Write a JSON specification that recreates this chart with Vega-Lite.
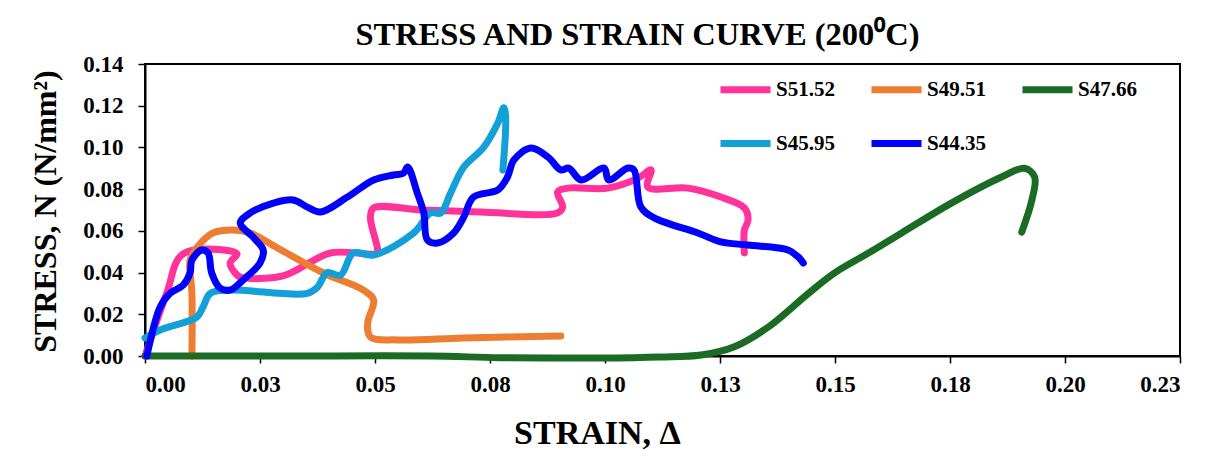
{
  "$schema": "https://vega.github.io/schema/vega-lite/v6.json",
  "autosize": "none",
  "width": 1035,
  "height": 292,
  "padding": {"left": 145, "top": 64, "right": 41, "bottom": 99},
  "background": "white",
  "title": {
    "text": "STRESS AND STRAIN CURVE (200⁰C)",
    "font": "Liberation Serif",
    "fontSize": 32.5,
    "fontWeight": "bold",
    "color": "black",
    "anchor": "middle",
    "dx": -25,
    "offset": 2
  },
  "config": {
    "view": {"stroke": "black", "strokeWidth": 2},
    "axis": {
      "labelFont": "Liberation Serif",
      "labelFontWeight": "bold",
      "labelFontSize": 23,
      "labelColor": "black",
      "titleFont": "Liberation Serif",
      "titleFontWeight": "bold",
      "titleColor": "black",
      "domainColor": "black",
      "domainWidth": 2,
      "tickColor": "black",
      "tickWidth": 1.5,
      "tickSize": 7,
      "grid": false
    }
  },
  "data": {
    "values": [
      {"s": "S51.52", "i": 0, "x": 0.0, "y": 0.0},
      {"s": "S51.52", "i": 1, "x": 0.0047, "y": 0.030},
      {"s": "S51.52", "i": 2, "x": 0.0083, "y": 0.049},
      {"s": "S51.52", "i": 3, "x": 0.020, "y": 0.049},
      {"s": "S51.52", "i": 4, "x": 0.0185, "y": 0.0446},
      {"s": "S51.52", "i": 5, "x": 0.0196, "y": 0.0398},
      {"s": "S51.52", "i": 6, "x": 0.0207, "y": 0.0379},
      {"s": "S51.52", "i": 7, "x": 0.030, "y": 0.0384},
      {"s": "S51.52", "i": 8, "x": 0.0403, "y": 0.0494},
      {"s": "S51.52", "i": 9, "x": 0.0505, "y": 0.0494},
      {"s": "S51.52", "i": 10, "x": 0.0505, "y": 0.052},
      {"s": "S51.52", "i": 11, "x": 0.049, "y": 0.0666},
      {"s": "S51.52", "i": 12, "x": 0.0497, "y": 0.071},
      {"s": "S51.52", "i": 13, "x": 0.060, "y": 0.070},
      {"s": "S51.52", "i": 14, "x": 0.073, "y": 0.069},
      {"s": "S51.52", "i": 15, "x": 0.0897, "y": 0.0686},
      {"s": "S51.52", "i": 16, "x": 0.0908, "y": 0.0714},
      {"s": "S51.52", "i": 17, "x": 0.0897, "y": 0.0786},
      {"s": "S51.52", "i": 18, "x": 0.0919, "y": 0.0805},
      {"s": "S51.52", "i": 19, "x": 0.1006, "y": 0.0805},
      {"s": "S51.52", "i": 20, "x": 0.1072, "y": 0.0853},
      {"s": "S51.52", "i": 21, "x": 0.110, "y": 0.0892},
      {"s": "S51.52", "i": 22, "x": 0.1093, "y": 0.081},
      {"s": "S51.52", "i": 23, "x": 0.118, "y": 0.0805},
      {"s": "S51.52", "i": 24, "x": 0.1252, "y": 0.0762},
      {"s": "S51.52", "i": 25, "x": 0.1303, "y": 0.071},
      {"s": "S51.52", "i": 26, "x": 0.1311, "y": 0.0652},
      {"s": "S51.52", "i": 27, "x": 0.1303, "y": 0.0604},
      {"s": "S51.52", "i": 28, "x": 0.1303, "y": 0.0494},

      {"s": "S49.51", "i": 0, "x": 0.0102, "y": 0.0},
      {"s": "S49.51", "i": 1, "x": 0.0102, "y": 0.030},
      {"s": "S49.51", "i": 2, "x": 0.0098, "y": 0.046},
      {"s": "S49.51", "i": 3, "x": 0.0113, "y": 0.052},
      {"s": "S49.51", "i": 4, "x": 0.0148, "y": 0.059},
      {"s": "S49.51", "i": 5, "x": 0.0192, "y": 0.0604},
      {"s": "S49.51", "i": 6, "x": 0.0229, "y": 0.059},
      {"s": "S49.51", "i": 7, "x": 0.0288, "y": 0.0518},
      {"s": "S49.51", "i": 8, "x": 0.0388, "y": 0.0398},
      {"s": "S49.51", "i": 9, "x": 0.0475, "y": 0.0316},
      {"s": "S49.51", "i": 10, "x": 0.0497, "y": 0.0268},
      {"s": "S49.51", "i": 11, "x": 0.0484, "y": 0.0158},
      {"s": "S49.51", "i": 12, "x": 0.049, "y": 0.0091},
      {"s": "S49.51", "i": 13, "x": 0.0549, "y": 0.0077},
      {"s": "S49.51", "i": 14, "x": 0.0693, "y": 0.0086},
      {"s": "S49.51", "i": 15, "x": 0.0904, "y": 0.0096},

      {"s": "S47.66", "i": 0, "x": 0.0, "y": 0.0},
      {"s": "S47.66", "i": 1, "x": 0.030, "y": 0.0},
      {"s": "S47.66", "i": 2, "x": 0.062, "y": 0.0},
      {"s": "S47.66", "i": 3, "x": 0.0773, "y": -0.0008},
      {"s": "S47.66", "i": 4, "x": 0.099, "y": -0.001},
      {"s": "S47.66", "i": 5, "x": 0.112, "y": -0.0005},
      {"s": "S47.66", "i": 6, "x": 0.1209, "y": 0.0005},
      {"s": "S47.66", "i": 7, "x": 0.128, "y": 0.0043},
      {"s": "S47.66", "i": 8, "x": 0.1355, "y": 0.0139},
      {"s": "S47.66", "i": 9, "x": 0.1442, "y": 0.030},
      {"s": "S47.66", "i": 10, "x": 0.150, "y": 0.040},
      {"s": "S47.66", "i": 11, "x": 0.157, "y": 0.049},
      {"s": "S47.66", "i": 12, "x": 0.1645, "y": 0.059},
      {"s": "S47.66", "i": 13, "x": 0.1753, "y": 0.0733},
      {"s": "S47.66", "i": 14, "x": 0.1862, "y": 0.0858},
      {"s": "S47.66", "i": 15, "x": 0.1912, "y": 0.090},
      {"s": "S47.66", "i": 16, "x": 0.1934, "y": 0.0858},
      {"s": "S47.66", "i": 17, "x": 0.1928, "y": 0.0748},
      {"s": "S47.66", "i": 18, "x": 0.1906, "y": 0.0594},

      {"s": "S45.95", "i": 0, "x": 0.0, "y": 0.0086},
      {"s": "S45.95", "i": 1, "x": 0.0033, "y": 0.0125},
      {"s": "S45.95", "i": 2, "x": 0.0113, "y": 0.0187},
      {"s": "S45.95", "i": 3, "x": 0.0126, "y": 0.0235},
      {"s": "S45.95", "i": 4, "x": 0.0142, "y": 0.030},
      {"s": "S45.95", "i": 5, "x": 0.0185, "y": 0.0316},
      {"s": "S45.95", "i": 6, "x": 0.0353, "y": 0.030},
      {"s": "S45.95", "i": 7, "x": 0.0375, "y": 0.033},
      {"s": "S45.95", "i": 8, "x": 0.0396, "y": 0.040},
      {"s": "S45.95", "i": 9, "x": 0.0425, "y": 0.0388},
      {"s": "S45.95", "i": 10, "x": 0.0453, "y": 0.0494},
      {"s": "S45.95", "i": 11, "x": 0.0497, "y": 0.0484},
      {"s": "S45.95", "i": 12, "x": 0.0584, "y": 0.059},
      {"s": "S45.95", "i": 13, "x": 0.0621, "y": 0.0686},
      {"s": "S45.95", "i": 14, "x": 0.0643, "y": 0.0686},
      {"s": "S45.95", "i": 15, "x": 0.0664, "y": 0.078},
      {"s": "S45.95", "i": 16, "x": 0.0693, "y": 0.0906},
      {"s": "S45.95", "i": 17, "x": 0.0736, "y": 0.100},
      {"s": "S45.95", "i": 18, "x": 0.0767, "y": 0.1117},
      {"s": "S45.95", "i": 19, "x": 0.078, "y": 0.119},
      {"s": "S45.95", "i": 20, "x": 0.0784, "y": 0.1146},
      {"s": "S45.95", "i": 21, "x": 0.0778, "y": 0.0892},

      {"s": "S44.35", "i": 0, "x": 0.0004, "y": 0.0},
      {"s": "S44.35", "i": 1, "x": 0.0033, "y": 0.0235},
      {"s": "S44.35", "i": 2, "x": 0.0054, "y": 0.030},
      {"s": "S44.35", "i": 3, "x": 0.0083, "y": 0.034},
      {"s": "S44.35", "i": 4, "x": 0.0098, "y": 0.0398},
      {"s": "S44.35", "i": 5, "x": 0.0102, "y": 0.046},
      {"s": "S44.35", "i": 6, "x": 0.0123, "y": 0.0508},
      {"s": "S44.35", "i": 7, "x": 0.0137, "y": 0.0494},
      {"s": "S44.35", "i": 8, "x": 0.0145, "y": 0.0398},
      {"s": "S44.35", "i": 9, "x": 0.0163, "y": 0.0326},
      {"s": "S44.35", "i": 10, "x": 0.0185, "y": 0.0316},
      {"s": "S44.35", "i": 11, "x": 0.0213, "y": 0.0364},
      {"s": "S44.35", "i": 12, "x": 0.025, "y": 0.0446},
      {"s": "S44.35", "i": 13, "x": 0.0257, "y": 0.0508},
      {"s": "S44.35", "i": 14, "x": 0.0235, "y": 0.057},
      {"s": "S44.35", "i": 15, "x": 0.0207, "y": 0.0638},
      {"s": "S44.35", "i": 16, "x": 0.0229, "y": 0.0686},
      {"s": "S44.35", "i": 17, "x": 0.0279, "y": 0.0733},
      {"s": "S44.35", "i": 18, "x": 0.0322, "y": 0.0748},
      {"s": "S44.35", "i": 19, "x": 0.0353, "y": 0.0714},
      {"s": "S44.35", "i": 20, "x": 0.0381, "y": 0.069},
      {"s": "S44.35", "i": 21, "x": 0.044, "y": 0.0762},
      {"s": "S44.35", "i": 22, "x": 0.0497, "y": 0.0844},
      {"s": "S44.35", "i": 23, "x": 0.054, "y": 0.0868},
      {"s": "S44.35", "i": 24, "x": 0.0562, "y": 0.0877},
      {"s": "S44.35", "i": 25, "x": 0.0571, "y": 0.0906},
      {"s": "S44.35", "i": 26, "x": 0.0592, "y": 0.0781},
      {"s": "S44.35", "i": 27, "x": 0.0606, "y": 0.0686},
      {"s": "S44.35", "i": 28, "x": 0.0614, "y": 0.0556},
      {"s": "S44.35", "i": 29, "x": 0.0636, "y": 0.0542},
      {"s": "S44.35", "i": 30, "x": 0.0671, "y": 0.059},
      {"s": "S44.35", "i": 31, "x": 0.0693, "y": 0.0666},
      {"s": "S44.35", "i": 32, "x": 0.0714, "y": 0.0762},
      {"s": "S44.35", "i": 33, "x": 0.0767, "y": 0.0796},
      {"s": "S44.35", "i": 34, "x": 0.0788, "y": 0.0858},
      {"s": "S44.35", "i": 35, "x": 0.0802, "y": 0.094},
      {"s": "S44.35", "i": 36, "x": 0.0839, "y": 0.0997},
      {"s": "S44.35", "i": 37, "x": 0.0876, "y": 0.0954},
      {"s": "S44.35", "i": 38, "x": 0.0904, "y": 0.0892},
      {"s": "S44.35", "i": 39, "x": 0.0921, "y": 0.0901},
      {"s": "S44.35", "i": 40, "x": 0.0948, "y": 0.0844},
      {"s": "S44.35", "i": 41, "x": 0.0998, "y": 0.0901},
      {"s": "S44.35", "i": 42, "x": 0.1008, "y": 0.0844},
      {"s": "S44.35", "i": 43, "x": 0.105, "y": 0.0901},
      {"s": "S44.35", "i": 44, "x": 0.1063, "y": 0.0892},
      {"s": "S44.35", "i": 45, "x": 0.1078, "y": 0.0714},
      {"s": "S44.35", "i": 46, "x": 0.1107, "y": 0.0662},
      {"s": "S44.35", "i": 47, "x": 0.1202, "y": 0.059},
      {"s": "S44.35", "i": 48, "x": 0.1252, "y": 0.0547},
      {"s": "S44.35", "i": 49, "x": 0.1311, "y": 0.0532},
      {"s": "S44.35", "i": 50, "x": 0.1398, "y": 0.0508},
      {"s": "S44.35", "i": 51, "x": 0.142, "y": 0.0475},
      {"s": "S44.35", "i": 52, "x": 0.1431, "y": 0.0446}
    ]
  },
  "mark": {"type": "line", "strokeWidth": 7, "strokeCap": "round", "strokeJoin": "round", "interpolate": "catmull-rom"},
  "encoding": {
    "x": {
      "field": "x", "type": "quantitative",
      "scale": {"domain": [0, 0.225], "nice": false, "zero": false},
      "axis": {
        "values": [0, 0.025, 0.05, 0.075, 0.1, 0.125, 0.15, 0.175, 0.2, 0.225],
        "labelExpr": "format(datum.value + 1e-9, '.2f')",
        "labelPadding": 10,
        "title": "STRAIN, Δ",
        "titleFontSize": 34,
        "titleX": 452,
        "titleY": 87,
        "titleBaseline": "alphabetic"
      }
    },
    "y": {
      "field": "y", "type": "quantitative",
      "scale": {"domain": [0, 0.14], "nice": false},
      "axis": {
        "values": [0, 0.02, 0.04, 0.06, 0.08, 0.1, 0.12, 0.14],
        "format": ".2f",
        "labelPadding": 15,
        "title": "STRESS, N (N/mm²)",
        "titleFontSize": 32,
        "titleAngle": 270,
        "titleAlign": "center",
        "titleBaseline": "middle",
        "titleX": -100,
        "titleY": 147
      }
    },
    "color": {
      "field": "s", "type": "nominal",
      "scale": {
        "domain": ["S51.52", "S49.51", "S47.66", "S45.95", "S44.35"],
        "range": ["#FF3399", "#ED7D31", "#1B6B24", "#13A0D8", "#0000FF"]
      },
      "legend": {
        "title": null,
        "orient": "none",
        "legendX": 572,
        "legendY": -3,
        "columns": 3,
        "direction": "horizontal",
        "symbolType": "stroke",
        "symbolSize": 2500,
        "symbolStrokeWidth": 7,
        "labelFont": "Liberation Serif",
        "labelFontWeight": "bold",
        "labelFontSize": 21,
        "labelColor": "black",
        "labelOffset": 2,
        "columnPadding": 22,
        "rowPadding": 11
      }
    },
    "order": {"field": "i", "type": "quantitative"}
  }
}
